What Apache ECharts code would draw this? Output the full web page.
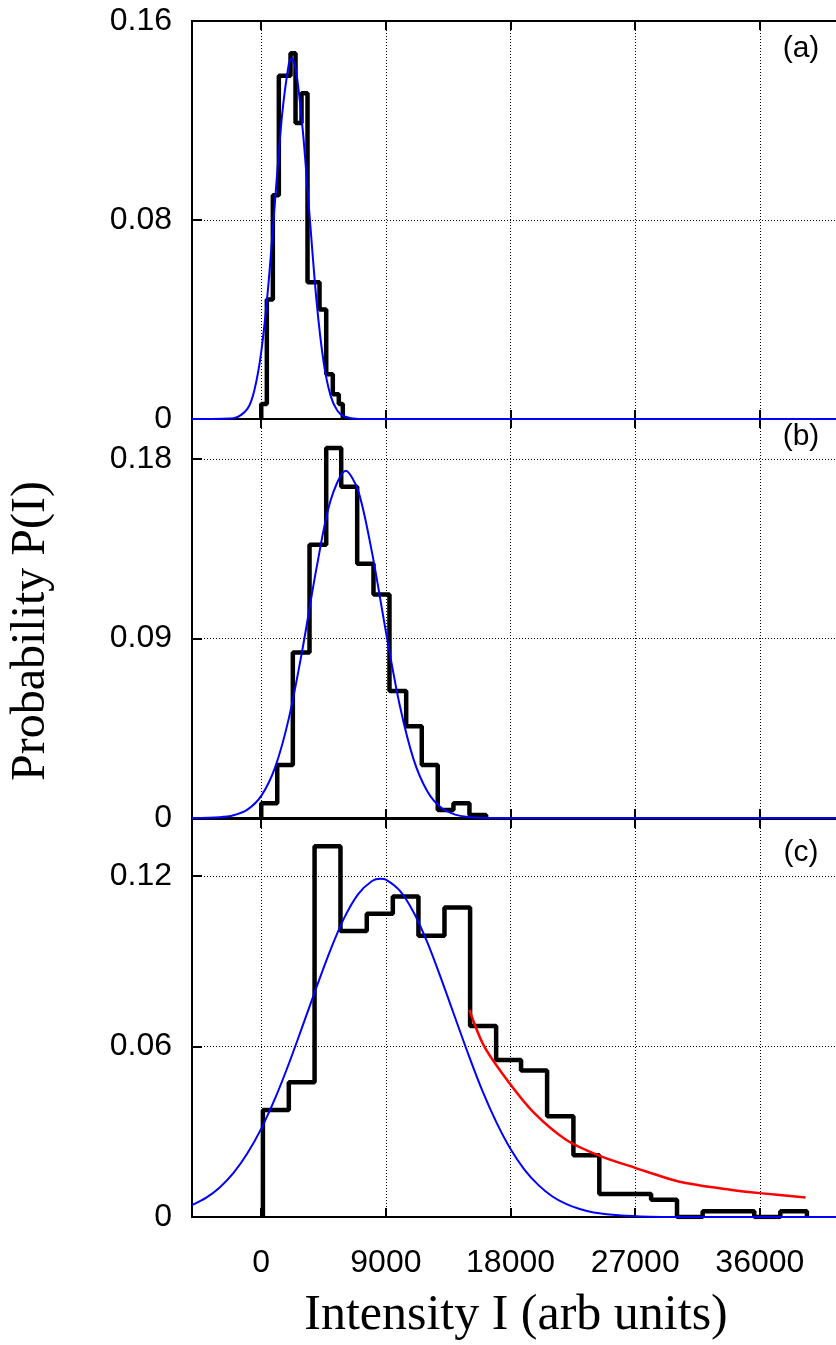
<!DOCTYPE html>
<html>
<head>
<meta charset="utf-8">
<script src="https://cdn.jsdelivr.net/npm/echarts@6/dist/echarts.min.js"></script>
<style>
html, body { margin: 0; padding: 0; background: #fff; }
#chart { width: 836px; height: 1345px; }
</style>
</head>
<body>
<div id="chart"></div>
<script>
// histogram bin edges (arb units) and probabilities
const edgesA = [0, 404, 837, 1270, 1703, 2115, 2475, 2908, 3341, 3774, 4207, 4691, 5167, 5600, 5889];
const probA = [0.006, 0.048, 0.090, 0.138, 0.138, 0.147, 0.119, 0.131, 0.055, 0.055, 0.044, 0.018, 0.010, 0.006];

const edgesB = [0, 1155, 2281, 3486, 4691, 5774, 6928, 8105, 9259, 10465, 11591, 12745, 13878, 15033, 16238];
const probB = [0.0074, 0.0266, 0.083, 0.137, 0.1855, 0.166, 0.1275, 0.112, 0.0637, 0.046, 0.0266, 0.004, 0.0074, 0.0015];

const edgesC = [120, 1990, 3850, 5720, 7620, 9500, 11350, 13230, 15080, 16960, 18760, 20640, 22540, 24410, 26290, 28150, 30020, 31870, 33740, 35600, 37480, 39400];
const probC = [0.0376, 0.0474, 0.1304, 0.1006, 0.1067, 0.1127, 0.0989, 0.1089, 0.0672, 0.0552, 0.0515, 0.0354, 0.0217, 0.0081, 0.0081, 0.0061, 0, 0.002, 0.002, 0, 0.002];

// blue fit curves, sampled from the figure
const fitAx = [-5000, -2000, -1000, -500, 0, 500, 1000, 1500, 2000, 2200, 2500, 3000, 3500, 4000, 4500, 5000, 5500, 6000, 7000, 41500];
const fitAy = [0, 0.0003, 0.0041, 0.0115, 0.027, 0.053, 0.088, 0.122, 0.143, 0.145, 0.1405, 0.116, 0.081, 0.047, 0.023, 0.0095, 0.0033, 0.001, 0, 0];

const fitBx = [-5000, -3000, -2000, -1000, 0, 1000, 2000, 3000, 4000, 5000, 6100, 7000, 8000, 9000, 10000, 11000, 12000, 13000, 14000, 15000, 16000, 17000, 41500];
const fitBy = [0, 0.0004, 0.0014, 0.0042, 0.0111, 0.0254, 0.0502, 0.0855, 0.1256, 0.159, 0.174, 0.164, 0.133, 0.0934, 0.0565, 0.0294, 0.0133, 0.0051, 0.0017, 0.0005, 0.0001, 0, 0];

const fitCx = [-5000, -4000, -3000, -2000, -1000, 0, 1000, 2000, 3000, 4000, 5000, 6000, 7000, 8000, 8600, 9000, 10000, 11000, 12000, 13000, 14000, 15000, 16000, 17000, 18000, 19000, 20000, 21000, 22000, 23000, 24000, 26000, 28000, 30000, 41500];
const fitCy = [0.0042, 0.0067, 0.0104, 0.0155, 0.0224, 0.0311, 0.0417, 0.054, 0.0674, 0.081, 0.094, 0.1053, 0.1136, 0.1182, 0.119, 0.1187, 0.1148, 0.1072, 0.0965, 0.0837, 0.0701, 0.0566, 0.044, 0.0331, 0.0239, 0.0167, 0.0113, 0.0073, 0.0046, 0.0028, 0.0016, 0.0005, 0.0001, 0, 0];

// red tail curve in panel (c)
const tailCx = [15030, 16100, 17900, 19700, 22000, 24400, 27000, 30400, 34000, 36000, 39300];
const tailCy = [0.0728, 0.060, 0.0472, 0.0366, 0.0272, 0.0216, 0.0173, 0.0122, 0.0095, 0.0084, 0.0069];

const xTicks = [0, 9000, 18000, 27000, 36000];
const yMax = [0.16, 0.2, 0.14];
const yStep = [0.08, 0.09, 0.06];
const panelNames = ['(a)', '(b)', '(c)'];

function steps(edges, probs) {
    let pts = [[edges[0], 0]];
    probs.forEach((p, i) => pts.push([edges[i], p]));
    pts.push([edges[edges.length - 1], 0]);
    return pts;
}
function zip(xs, ys) {
    return xs.map((x, i) => [x, ys[i]]);
}

const grids = [
    { left: 192, right: 0, top: 21, height: 398 },
    { left: 192, right: 0, top: 419, height: 399 },
    { left: 192, right: 0, top: 819, height: 398 }
];
const dotted = { color: '#000', width: 1, type: [1, 2] };
const black = { color: '#000', width: 2 };

let xAxes = [], yAxes = [];
[0, 1, 2].forEach(i => {
    xAxes.push({
        type: 'value', gridIndex: i, min: -5000, max: 41500, position: 'bottom',
        axisLine: { show: true, onZero: false, lineStyle: black },
        axisTick: { show: true, inside: true, length: 9, customValues: xTicks, lineStyle: black },
        axisLabel: {
            show: i === 2, customValues: xTicks, margin: 30, color: '#000',
            fontSize: 32, fontFamily: 'Liberation Sans',
            formatter: v => String(v)
        },
        splitLine: { show: true, lineStyle: dotted }
    });
    xAxes.push({
        type: 'value', gridIndex: i, min: -5000, max: 41500, position: 'top',
        axisLine: { show: true, onZero: false, lineStyle: black },
        axisTick: { show: true, inside: true, length: 9, customValues: xTicks, lineStyle: black },
        axisLabel: { show: false },
        splitLine: { show: false }
    });
    yAxes.push({
        type: 'value', gridIndex: i, min: 0, max: yMax[i], interval: yStep[i],
        axisLine: { show: true, onZero: false, lineStyle: black },
        axisTick: { show: true, inside: true, length: 10, lineStyle: black },
        axisLabel: {
            margin: 20, color: '#000', fontSize: 32, fontFamily: 'Liberation Sans',
            showMaxLabel: i === 0
        },
        splitLine: { show: true, lineStyle: dotted }
    });
});

const hist = [steps(edgesA, probA), steps(edgesB, probB), steps(edgesC, probC)];
const fits = [zip(fitAx, fitAy), zip(fitBx, fitBy), zip(fitCx, fitCy)];

let series = [];
[0, 1, 2].forEach(i => {
    series.push({
        type: 'line', xAxisIndex: i * 2, yAxisIndex: i, data: hist[i], step: 'end',
        symbol: 'none', lineStyle: { color: '#000', width: 4.5 }, z: 2
    });
    series.push({
        type: 'line', xAxisIndex: i * 2, yAxisIndex: i, data: fits[i], smooth: 0.3,
        symbol: 'none', lineStyle: { color: '#0000ff', width: 2 }, z: 3
    });
});
series.push({
    type: 'line', xAxisIndex: 4, yAxisIndex: 2, data: zip(tailCx, tailCy), smooth: 0.3,
    symbol: 'none', lineStyle: { color: '#ff0000', width: 2.5 }, z: 4
});

const panelY = [49, 437, 853];
let graphic = panelNames.map((t, i) => ({
    type: 'text', x: 801, y: panelY[i], z: 10,
    style: { text: t, font: '30px "Liberation Sans"', fill: '#000',
             textAlign: 'center', textVerticalAlign: 'middle', align: 'center', verticalAlign: 'middle' }
}));
graphic.push({
    type: 'text', x: 31, y: 631, rotation: Math.PI / 2,
    style: { text: 'Probability P(I)', font: '48px "Liberation Serif"', fill: '#000',
             textAlign: 'center', textVerticalAlign: 'middle', align: 'center', verticalAlign: 'middle' }
});
graphic.push({
    type: 'text', x: 516, y: 1316,
    style: { text: 'Intensity I (arb units)', font: '50px "Liberation Serif"', fill: '#000',
             textAlign: 'center', textVerticalAlign: 'middle', align: 'center', verticalAlign: 'middle' }
});

let chart = echarts.init(document.getElementById('chart'));
chart.setOption({
    animation: false,
    backgroundColor: '#fff',
    grid: grids,
    xAxis: xAxes,
    yAxis: yAxes,
    series: series,
    graphic: graphic
});
</script>
</body>
</html>
